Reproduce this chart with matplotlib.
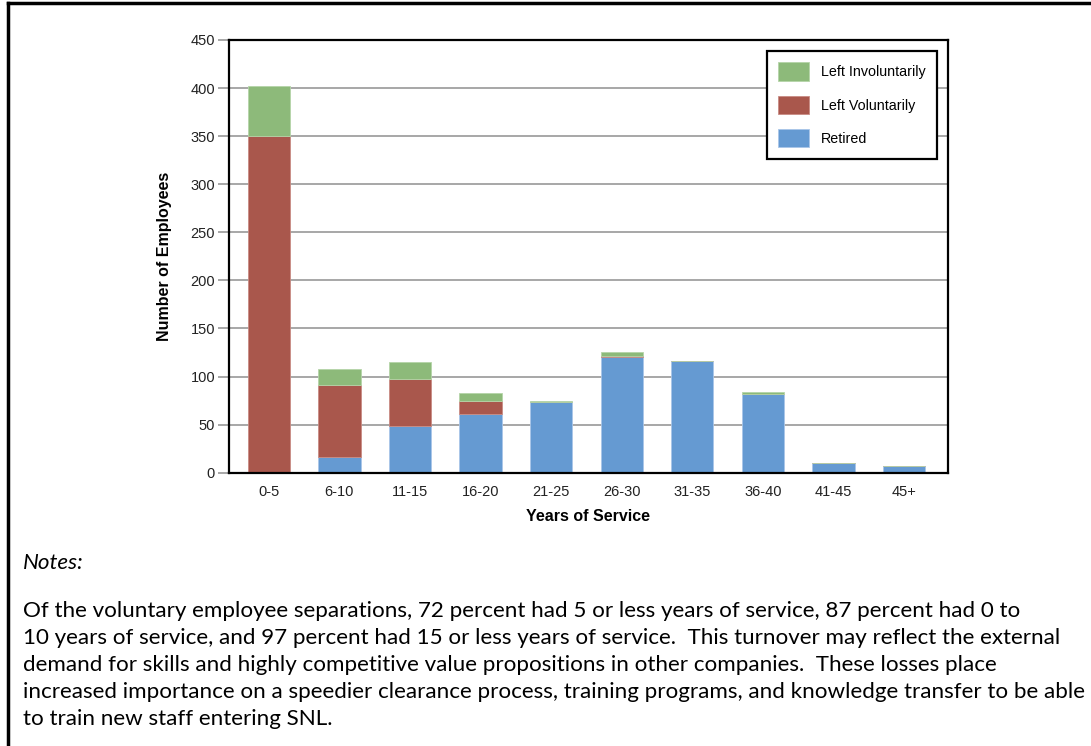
import matplotlib
matplotlib.use("Agg")
import matplotlib.pyplot as plt
from matplotlib.lines import Line2D
import numpy as np

categories = ['0-5', '6-10', '11-15', '16-20', '21-25', '26-30', '31-35', '36-40', '41-45', '45+']
retired = [0, 16, 49, 61, 74, 120, 116, 82, 10, 7]
left_voluntarily = [350, 75, 48, 14, 0, 1, 0, 0, 0, 0]
left_involuntarily = [52, 17, 18, 8, 1, 5, 0, 2, 0, 0]

notes_title = "Notes:"
notes_lines = [
    "Of the voluntary employee separations, 72 percent had 5 or less years of service, 87 percent had 0 to",
    "10 years of service, and 97 percent had 15 or less years of service.  This turnover may reflect the external",
    "demand for skills and highly competitive value propositions in other companies.  These losses place",
    "increased importance on a speedier clearance process, training programs, and knowledge transfer to be able",
    "to train new staff entering SNL.",
]

c_green = '#8dba7a'
c_red = '#a9574c'
c_blue = '#659ad2'

plt.rcParams['font.family'] = ['Liberation Sans', 'DejaVu Sans']

fig = plt.figure(figsize=(10.91, 7.46), dpi=100)
ax = fig.add_axes([0.2099, 0.3664, 0.6588, 0.5800])

x = np.arange(len(categories))
w = 0.6
ret = np.array(retired)
vol = np.array(left_voluntarily)
inv = np.array(left_involuntarily)
b_ret = ax.bar(x, ret, w, color=c_blue, edgecolor='#a9c6e8', linewidth=0.6, zorder=3, label='Retired')
b_vol = ax.bar(x, vol, w, bottom=ret, color=c_red, edgecolor='#c98c84', linewidth=0.6, zorder=3,
               label='Left Voluntarily')
b_inv = ax.bar(x, inv, w, bottom=ret + vol, color=c_green, edgecolor='#b5d4a8', linewidth=0.6, zorder=3,
               label='Left Involuntarily')

ax.set_xlim(-0.564, 9.62)
ax.set_ylim(0, 450)
ax.set_yticks(np.arange(0, 451, 50))
ax.set_xticks(x)
ax.set_xticklabels(categories)
ax.grid(axis='y', color='#a0a0a0', linewidth=1.3, zorder=0)
ax.tick_params(axis='y', length=8, width=1.3, color='#a0a0a0', labelsize=10.5, pad=2, labelcolor='#222222')
ax.tick_params(axis='x', length=0, labelsize=10.5, pad=9, labelcolor='#222222')
for s in ax.spines.values():
    s.set_linewidth(1.6)
    s.set_color('black')
    s.set_zorder(4)

ax.set_xlabel('Years of Service', fontsize=11.5, fontweight='bold', labelpad=7)
ax.set_ylabel('Number of Employees', fontsize=11.5, fontweight='bold', labelpad=13)

leg = ax.legend(handles=[b_inv, b_vol, b_ret], loc='upper right', bbox_to_anchor=(0.985, 0.975),
                fontsize=10.3, frameon=True, fancybox=False, framealpha=1, edgecolor='black',
                handlelength=2.2, handleheight=1.6, labelspacing=1.05, handletextpad=0.8,
                borderpad=0.8, borderaxespad=0)
leg.get_frame().set_linewidth(1.6)
leg.set_zorder(5)

# outer frame (top and left only)
fig.add_artist(Line2D([8 / 1091, 1], [1 - 3 / 746, 1 - 3 / 746], color='black', lw=2.5,
                      transform=fig.transFigure))
fig.add_artist(Line2D([8 / 1091, 8 / 1091], [0, 1 - 3 / 746], color='black', lw=2.5,
                      transform=fig.transFigure))

# notes
fig.text(23 / 1091, 1 - 563 / 746, notes_title, fontsize=16.1, style='italic', family=['Lato', 'DejaVu Sans'],
         va='center', ha='left')
for i, line in enumerate(notes_lines):
    fig.text(23 / 1091, 1 - (611 + 27 * i) / 746, line, fontsize=16.1, family=['Lato', 'DejaVu Sans'],
             va='center', ha='left')

fig.savefig('out.png', dpi=100)
